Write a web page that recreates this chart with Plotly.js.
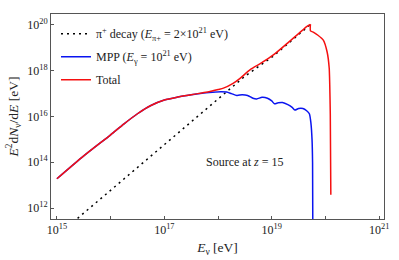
<!DOCTYPE html>
<html>
<head>
<meta charset="utf-8">
<script src="https://cdn.plot.ly/plotly-3.0.1.min.js"></script>
<style>html,body{margin:0;padding:0;background:#fff;}#chart{width:399px;height:260px;}</style>
</head>
<body>
<div id="chart"></div>
<script>
// log10 of neutrino energy (eV) and log10 of E^2 dN/dE (eV)
const pionLogE = [15.3, 16.0, 17.0, 17.73, 18.16, 18.5, 19.03, 19.65, 19.72];
const pionLogF = [11.38, 12.78, 14.78, 16.22, 17.09, 17.76, 18.64, 19.9, 20.02];

const mppLogE = [15.0, 15.5, 16.0, 16.25, 16.5, 16.75, 17.0, 17.25, 17.5, 17.7, 17.9, 18.05, 18.16, 18.25, 18.35, 18.45, 18.55, 18.65, 18.72, 18.82, 18.92, 19.0, 19.05, 19.12, 19.2, 19.3, 19.38, 19.43, 19.5, 19.58, 19.65, 19.7, 19.73, 19.75, 19.76, 19.765];
const mppLogF = [13.28, 14.28, 15.2, 15.68, 16.12, 16.48, 16.72, 16.85, 16.95, 17.02, 17.06, 17.08, 17.07, 17.0, 16.92, 16.95, 16.92, 16.8, 16.77, 16.84, 16.8, 16.68, 16.56, 16.6, 16.61, 16.52, 16.4, 16.28, 16.35, 16.35, 16.25, 16.12, 15.7, 15.0, 14.0, 11.0];

// total: rising branch up to the peak, then the falling branch
const totRiseLogE = [15.0, 15.5, 16.0, 16.25, 16.5, 16.75, 17.0, 17.25, 17.5, 17.7, 17.85, 18.0, 18.1, 18.28, 18.41, 18.6, 18.8, 19.03, 19.3, 19.5, 19.65, 19.72];
const totRiseLogF = [13.28, 14.28, 15.2, 15.68, 16.12, 16.48, 16.72, 16.85, 16.95, 17.03, 17.09, 17.18, 17.24, 17.45, 17.67, 18.05, 18.33, 18.69, 19.22, 19.62, 19.93, 20.03];
const totFallLogE = [19.72, 19.721, 19.78, 19.86, 19.96, 20.03, 20.07, 20.08, 20.09, 20.1];
const totFallLogF = [20.03, 19.74, 19.68, 19.55, 19.34, 18.83, 18.11, 17.38, 16.11, 12.58];

const yTickLogs = [12, 14, 16, 18, 20];
const xTickLogs = [15, 16, 17, 18, 19, 20, 21];
const xTickLabels = ['10<sup>15</sup>', '', '10<sup>17</sup>', '', '10<sup>19</sup>', '', '10<sup>21</sup>'];
const yTickLabels = ['10<sup>12</sup>', '10<sup>14</sup>', '10<sup>16</sup>', '10<sup>18</sup>', '10<sup>20</sup>'];

const p10 = a => a.map(v => Math.pow(10, v));
const serif = 'Liberation Serif';
const RED = '#f51010';

const traces = [
  {x: p10(pionLogE), y: p10(pionLogF), mode: 'lines', legendgroup: 'a',
   name: 'π<sup>+</sup> decay (<i>E</i><sub>π+</sub> = 2×10<sup>21</sup> eV)',
   line: {color: '#000', width: 1.5, dash: '2px,4px'}},
  {x: p10(mppLogE), y: p10(mppLogF), mode: 'lines', legendgroup: 'b',
   name: 'MPP (<i>E</i><sub>γ</sub> = 10<sup>21</sup> eV)',
   line: {color: '#0a14f0', width: 1.5, shape: 'spline', smoothing: 0.7}},
  {x: p10(totRiseLogE), y: p10(totRiseLogF), mode: 'lines', legendgroup: 'c', name: 'Total',
   line: {color: RED, width: 1.5, shape: 'spline', smoothing: 0.7}},
  {x: p10(totFallLogE), y: p10(totFallLogF), mode: 'lines', legendgroup: 'c', name: 'Total', showlegend: false,
   line: {color: RED, width: 1.5, shape: 'spline', smoothing: 0.5}}
];

const axisCommon = {
  type: 'log', showgrid: false, zeroline: false, showline: true, mirror: true,
  linecolor: '#555', linewidth: 1, ticks: 'inside', ticklen: 3, tickcolor: '#555',
  tickfont: {family: serif, size: 12, color: '#222'}, tickmode: 'array'
};

const layout = {
  width: 399, height: 260,
  margin: {l: 51, r: 15, t: 14, b: 41},
  paper_bgcolor: '#fff', plot_bgcolor: '#fff',
  font: {family: serif, size: 12, color: '#222'},
  showlegend: true,
  legend: {x: 0.015, y: 0.975, xanchor: 'left', yanchor: 'top', bgcolor: 'rgba(0,0,0,0)',
           tracegroupgap: 4,
           font: {family: serif, size: 12, color: '#222'}},
  xaxis: Object.assign({}, axisCommon, {
    range: [14.89, 21.09], tickvals: p10(xTickLogs), ticktext: xTickLabels,
    title: {text: '<i>E</i><sub>ν</sub> [eV]', font: {family: serif, size: 13.5, color: '#222'}, standoff: 6}
  }),
  yaxis: Object.assign({}, axisCommon, {
    range: [11.52, 20.48], tickvals: p10(yTickLogs), ticktext: yTickLabels,
    title: {text: '<i>E</i><sup>2</sup>d<i>N</i><sub>ν</sub>/d<i>E</i> [eV]', font: {family: serif, size: 13.5, color: '#222'}, standoff: 5}
  }),
  annotations: [{
    xref: 'x', yref: 'y', x: 18.5, y: 14.02, showarrow: false,
    text: 'Source at <i>z</i> = 15', font: {family: serif, size: 12, color: '#222'}
  }]
};

Plotly.newPlot('chart', traces, layout, {staticPlot: true, displayModeBar: false});
</script>
</body>
</html>
